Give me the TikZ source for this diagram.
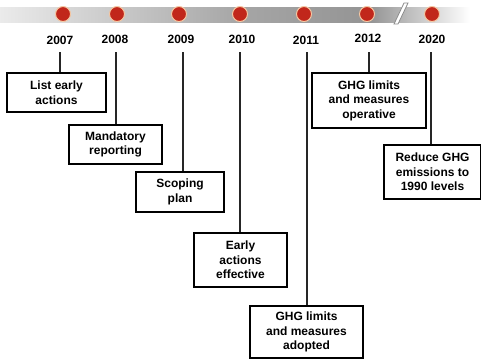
\documentclass[tikz,border=0pt]{standalone}
\usepackage{fontspec}
\setmainfont{Liberation Sans}
\begin{document}
\begin{tikzpicture}[x=1pt,y=-1pt,
  dot/.style={circle,fill=dotred,draw=dotring,line width=1pt,minimum size=15pt,inner sep=0pt},
  year/.style={font=\fontsize{12}{14}\selectfont\bfseries,inner sep=0pt},
  box/.style={draw=black,line width=1.3pt,fill=white,align=center,inner sep=0pt,
    font=\fontsize{12}{14.5}\selectfont\bfseries},
  link/.style={draw=black!85,line width=1.3pt}]
\definecolor{dotred}{HTML}{C1271B}
\definecolor{dotring}{HTML}{F4C7A2}
\useasboundingbox (0,0) rectangle (481,360);
% band
\shade[left color=black!8,right color=black!35] (0,7) rectangle (240,22);
\shade[left color=black!35,right color=black!42] (240,7) rectangle (370,22);
\shade[left color=black!42,right color=white] (370,7) rectangle (470,22);
% break mark
\filldraw[fill=white,draw=black!45,line width=0.8pt] (394,24) -- (404,3) -- (408,3) -- (398,24) -- cycle;
% dots
\foreach \n/\x in {1/63,2/117,3/179,4/240,5/304,6/367,7/432}
  \node[dot] (d\n) at (\x,14) {};
% years
\node[year] (y1) at (60,40) {2007};
\node[year] (y2) at (115,39) {2008};
\node[year] (y3) at (181,39) {2009};
\node[year] (y4) at (242,39) {2010};
\node[year] (y5) at (306,40) {2011};
\node[year] (y6) at (368,38) {2012};
\node[year] (y7) at (432,39) {2020};
% tick starts
\coordinate (t1) at (60,52);
\coordinate (t2) at (116,52);
\coordinate (t3) at (183,52);
\coordinate (t4) at (240,52);
\coordinate (t5) at (307,52);
\coordinate (t6) at (369,52);
\coordinate (t7) at (431,52);
% boxes
\node[box,minimum width=99pt,minimum height=39pt] (b1) at (56.5,92.5) {List early\\actions};
\node[box,minimum width=93pt,minimum height=39pt] (b2) at (115.5,144.5) {Mandatory\\reporting};
\node[box,minimum width=88pt,minimum height=40pt] (b3) at (180,192) {Scoping\\plan};
\node[box,minimum width=93pt,minimum height=54pt] (b4) at (240.5,260) {Early\\actions\\effective};
\node[box,minimum width=113pt,minimum height=52pt] (b5) at (306.5,332) {GHG limits\\and measures\\adopted};
\node[box,minimum width=114pt,minimum height=55pt] (b6) at (369,100.5) {GHG limits\\and measures\\operative};
\node[box,minimum width=97pt,minimum height=54pt] (b7) at (432.5,172) {Reduce GHG\\emissions to\\1990 levels};
% links
\foreach \n in {1,...,7}
  \draw[link] (t\n) -- (t\n |- b\n.north);
\end{tikzpicture}
\end{document}
